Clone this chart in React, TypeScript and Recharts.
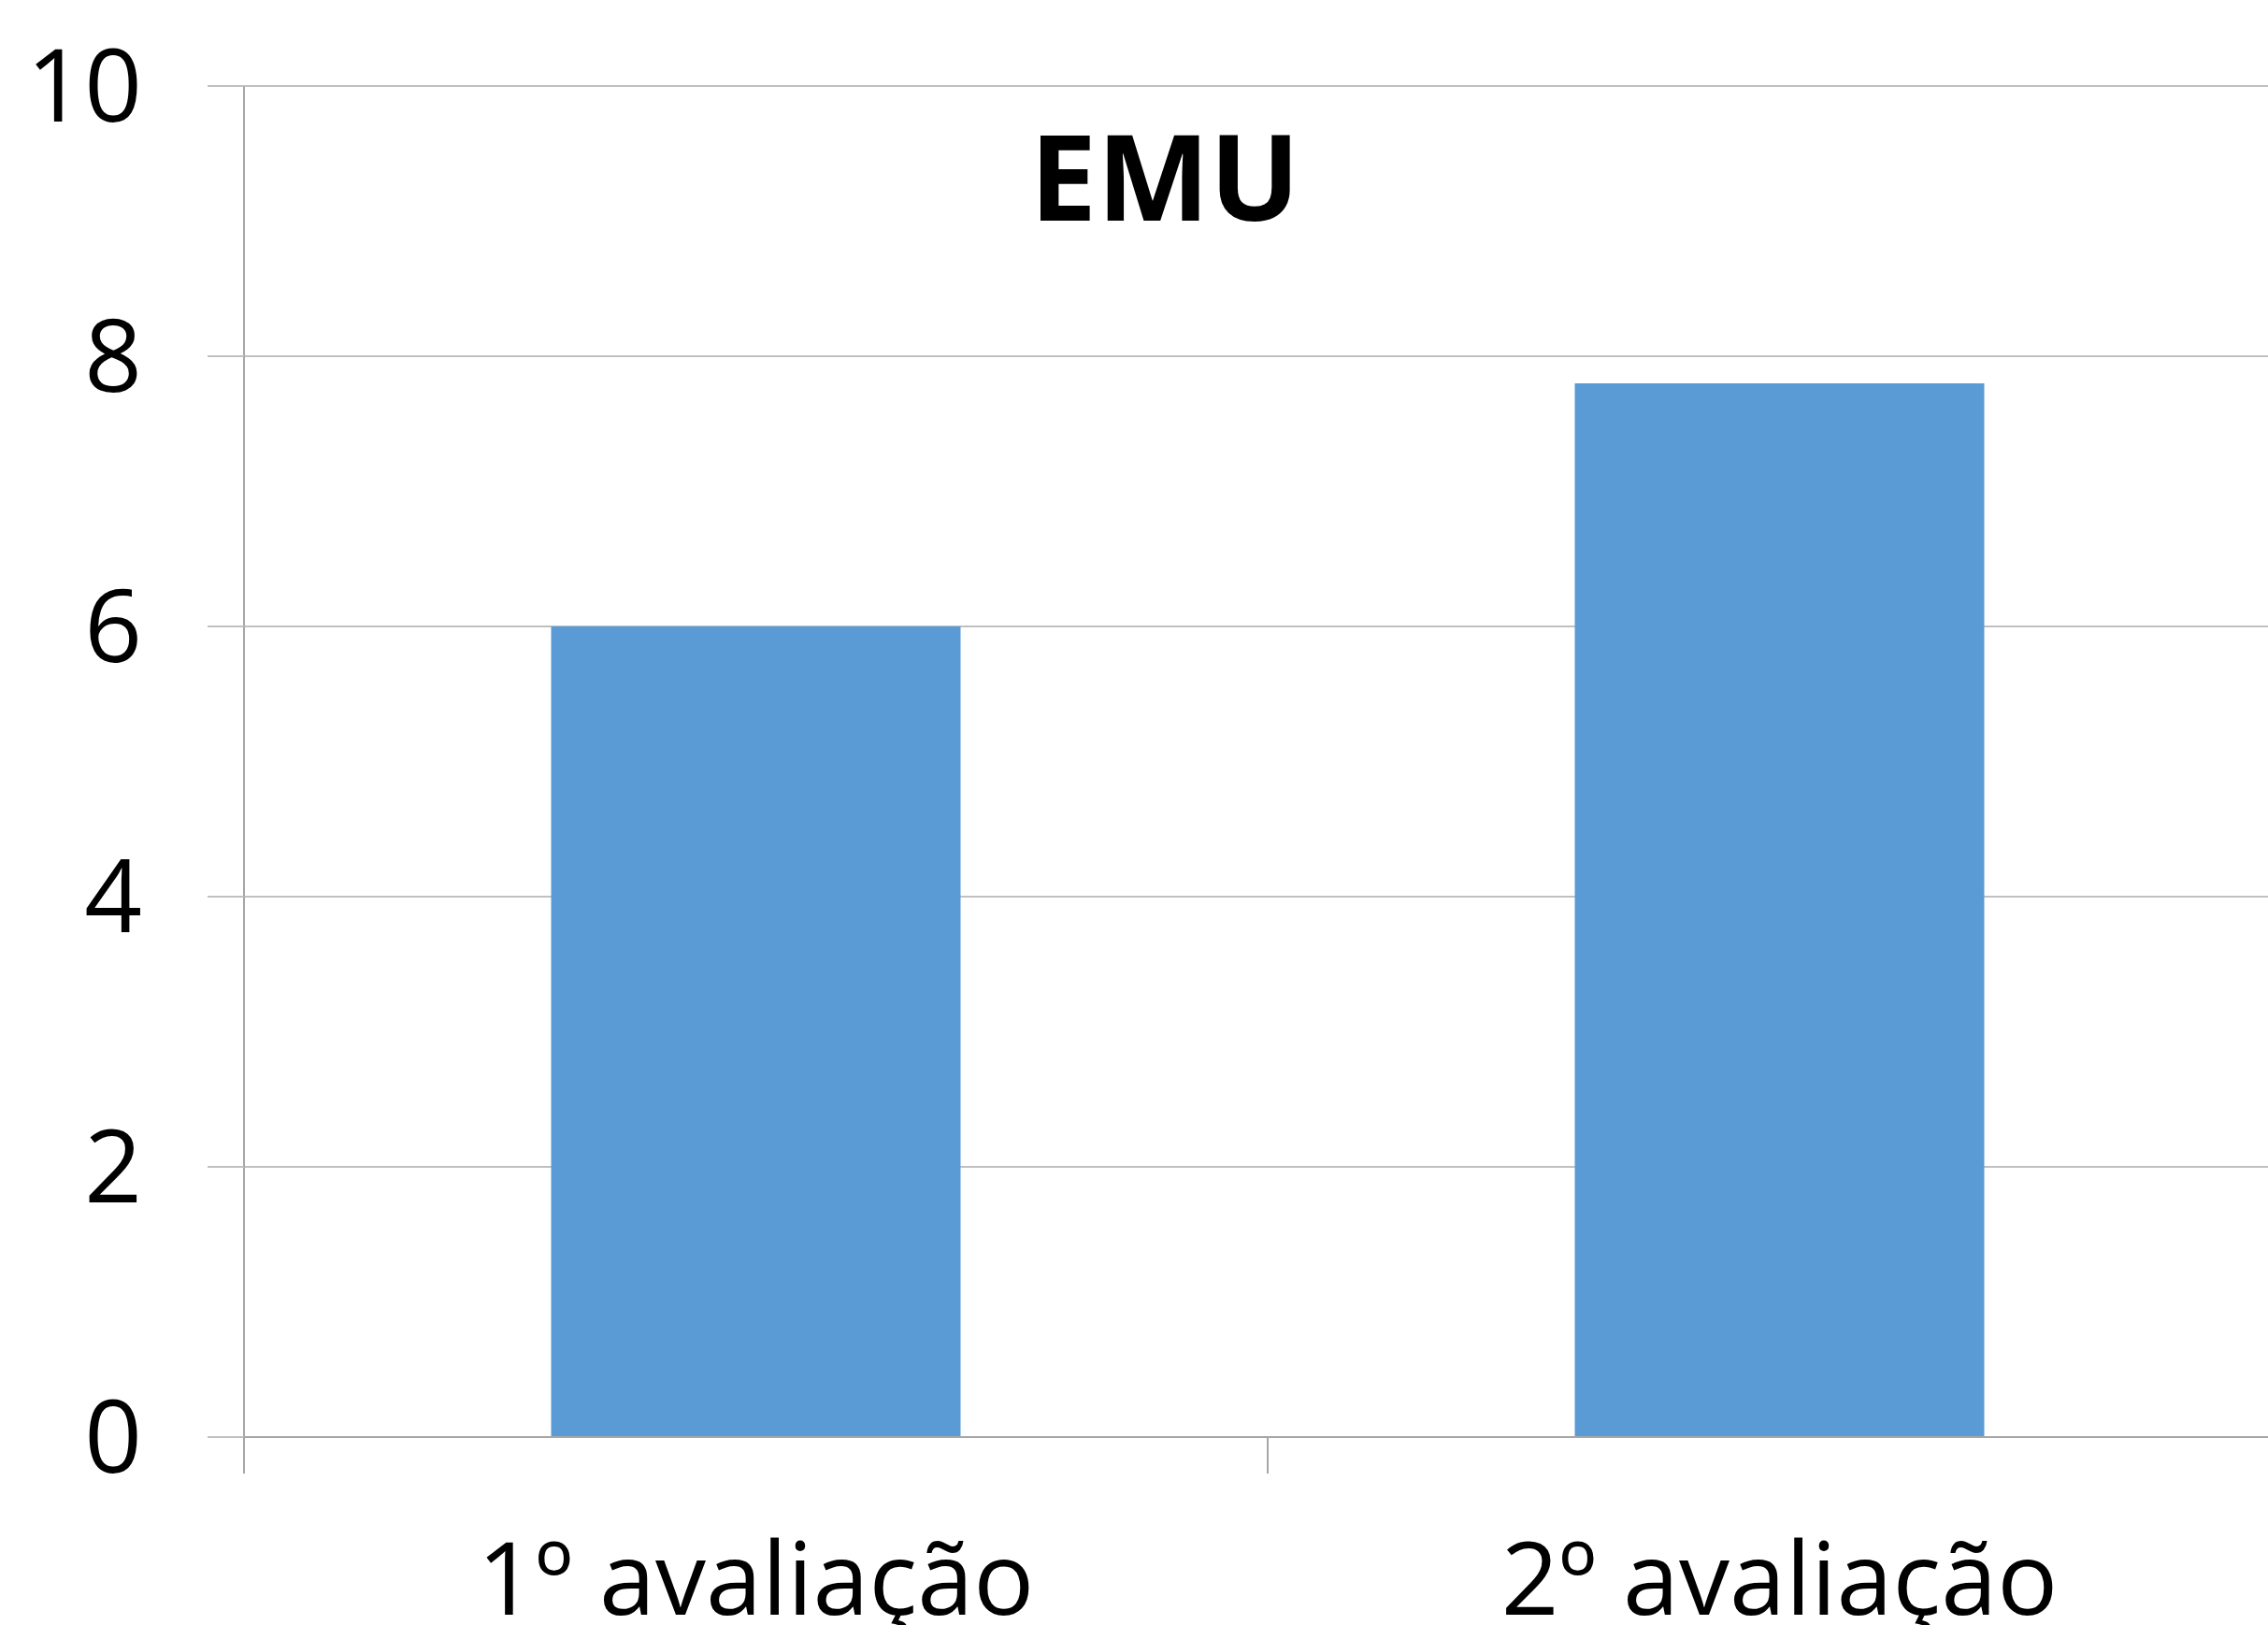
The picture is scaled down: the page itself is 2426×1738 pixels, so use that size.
import React from 'react';
import { BarChart, Bar, XAxis, YAxis, CartesianGrid } from 'recharts';

const categories = ['1º avaliação', '2º avaliação'];
const emuValues = [6, 7.8];
const yTicks = [0, 2, 4, 6, 8, 10];
const chartTitle = 'EMU';

const data = categories.map((name, i) => ({ name, value: emuValues[i] }));

const CHART_W = 2461;
const CHART_H = 1760;
const MARGIN = { top: 92, right: 10, bottom: 0, left: 0 };
const Y_AXIS_W = 261;
const X_AXIS_H = 223;
const PLOT_W = CHART_W - MARGIN.left - MARGIN.right - Y_AXIS_W;
const BAND_W = PLOT_W / categories.length;
const FONT = '"Open Sans", "Noto Sans", sans-serif';
const AXIS_COLOR = '#a6a6a6';
const GRID_COLOR = '#c0c0c0';
const TICK_LEN = 39;

const CategoryTick = (props: any) => {
  const { x, y, payload } = props;
  const left = x - BAND_W / 2;
  return (
    <g>
      <line x1={left} y1={y - TICK_LEN} x2={left} y2={y} stroke={AXIS_COLOR} strokeWidth={2} />
      <text x={x} y={y} dy={151} textAnchor="middle" fontFamily={FONT} fontSize={108} fill="#000">
        {payload.value}
      </text>
    </g>
  );
};

export default function App() {
  return (
    <div
      style={{
        position: 'fixed',
        left: 0,
        top: 0,
        width: 2426,
        height: 1738,
        overflow: 'hidden',
        background: '#fff',
      }}
    >
      <BarChart width={CHART_W} height={CHART_H} data={data} margin={MARGIN} barCategoryGap="30%">
        <CartesianGrid vertical={false} stroke={GRID_COLOR} strokeWidth={2} />
        <XAxis
          dataKey="name"
          height={X_AXIS_H}
          axisLine={{ stroke: AXIS_COLOR, strokeWidth: 2 }}
          tickLine={false}
          tickSize={TICK_LEN}
          tickMargin={0}
          tick={<CategoryTick />}
          interval={0}
        />
        <YAxis
          width={Y_AXIS_W}
          domain={[0, 10]}
          ticks={yTicks}
          interval={0}
          axisLine={{ stroke: AXIS_COLOR, strokeWidth: 2 }}
          tickLine={{ stroke: GRID_COLOR, strokeWidth: 2 }}
          tickSize={TICK_LEN}
          tickMargin={70}
          tick={{ fontFamily: FONT, fontSize: 108, fill: '#000' }}
        />
        <Bar dataKey="value" fill="#5B9BD5" isAnimationActive={false} />
      </BarChart>
      <svg
        width={2426}
        height={1738}
        style={{ position: 'absolute', left: 0, top: 0, pointerEvents: 'none' }}
      >
        <text
          x={1246}
          y={236}
          textAnchor="middle"
          fontFamily={FONT}
          fontWeight="bold"
          fontSize={128}
          fill="#000"
        >
          {chartTitle}
        </text>
      </svg>
    </div>
  );
}
